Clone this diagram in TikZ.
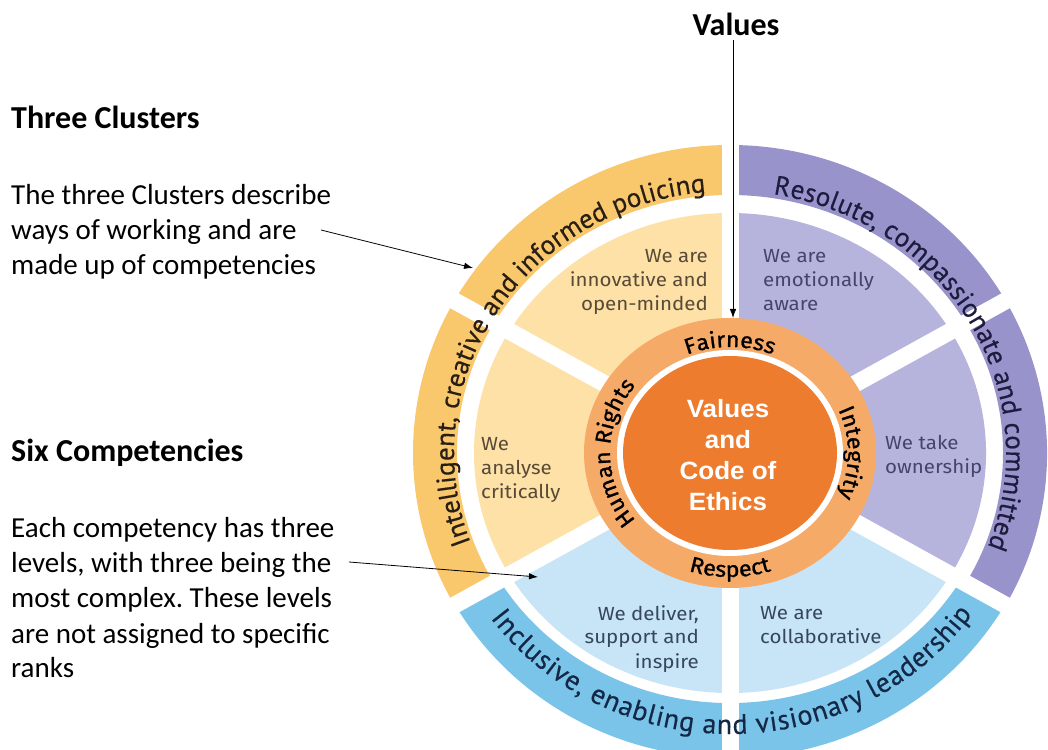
\documentclass[tikz,border=0pt]{standalone}
\usepackage{fontspec}
\setmainfont{Carlito}
\newfontfamily\wheelfont[FakeStretch=1.08]{Fira Sans}
\newfontfamily\ringfont[FakeStretch=1.06,FakeBold=1]{Fira Sans}
\newfontfamily\bandfont[FakeBold=0.4]{PT Sans}
\newfontfamily\corefont[FakeStretch=1.04]{Liberation Sans}
\usetikzlibrary{arrows.meta,decorations.text}
\frenchspacing
\definecolor{ybandc}{RGB}{249,199,108}
\definecolor{ysecc}{RGB}{253,225,167}
\definecolor{pbandc}{RGB}{152,147,203}
\definecolor{psecc}{RGB}{182,179,220}
\definecolor{bbandc}{RGB}{122,196,234}
\definecolor{bsecc}{RGB}{200,229,247}
\definecolor{ringc}{RGB}{246,170,104}
\definecolor{corec}{RGB}{237,124,46}
\definecolor{ytxt}{RGB}{88,74,54}
\definecolor{ptxt}{RGB}{70,68,108}
\definecolor{btxt}{RGB}{54,70,92}
\definecolor{ybtxt}{RGB}{40,30,20}
\definecolor{pbtxt}{RGB}{30,28,62}
\definecolor{bbtxt}{RGB}{20,40,70}
\newcommand{\wheelpart}[7]{%
  \fill[#1] (#2:#4pt and #5pt) arc[start angle=#2, end angle=#3, x radius=#4pt, y radius=#5pt]
    -- (#3:#6pt and #7pt) arc[start angle=#3, end angle=#2, x radius=#6pt, y radius=#7pt] -- cycle;}
\tikzset{
  hd/.style={anchor=base west, inner sep=0pt, font=\bfseries\fontsize{32}{38}\selectfont},
  bd/.style={anchor=base west, inner sep=0pt, font=\fontsize{29}{35}\selectfont},
  sectxt/.style={inner sep=0pt, font=\wheelfont\fontsize{19}{24}\selectfont},
  pointer/.style={draw=black, line width=0.8pt, -{Latex[length=9pt,width=6.5pt]}},
  gapline/.style={draw=white, line width=17pt},
}
\begin{document}
\begin{tikzpicture}[x=1pt,y=1pt]
\useasboundingbox (0,0) rectangle (1048,749);
\fill[white] (0,0) rectangle (1048,749);

\begin{scope}[shift={(730,296)}]
  % outer cluster bands
  \wheelpart{ybandc}{90}{210}{317}{308}{273}{258}
  \wheelpart{pbandc}{-30}{90}{317}{308}{273}{258}
  \wheelpart{bbandc}{210}{330}{317}{305}{268}{250}
  % competency sectors
  \wheelpart{ysecc}{90}{210}{256}{240}{60}{60}
  \wheelpart{psecc}{-30}{90}{256}{240}{60}{60}
  \wheelpart{bsecc}{210}{330}{256}{240}{60}{60}
  % white gaps
  \foreach \a in {30,90,150,210,270,330}
    \draw[gapline] (0,0) -- (\a:345pt and 330pt);
  % values ring and core
  \fill[ringc] (0,0) ellipse[x radius=146pt, y radius=135pt];
  \fill[white] (0,0) ellipse[x radius=113pt, y radius=103pt];
  \fill[corec] (0,0) ellipse[x radius=107pt, y radius=97pt];

  % band texts
  \path[decorate, decoration={text along path, text align=fit to path,
      text={|\bandfont\fontsize{27}{27}\selectfont\color{ybtxt}|Intelligent, creative and informed policing}}]
    (200:276pt and 262pt) arc[start angle=200, end angle=95, x radius=276pt, y radius=262pt];
  \path[decorate, decoration={text along path, text align=fit to path,
      text={|\bandfont\fontsize{27}{27}\selectfont\color{pbtxt}|Resolute, compassionate and committed}}]
    (81:276pt and 262pt) arc[start angle=81, end angle=-21, x radius=276pt, y radius=262pt];
  \path[decorate, decoration={text along path, text align=fit to path,
      text={|\bandfont\fontsize{28}{28}\selectfont\color{bbtxt}|Inclusive, enabling and visionary leadership}}]
    (216:296pt and 281pt) arc[start angle=216, end angle=325, x radius=296pt, y radius=281pt];

  % value labels on ring
  \path[decorate, decoration={text along path, text align=center,
      text={|\ringfont\fontsize{22}{22}\selectfont|Fairness}}]
    (140:115pt and 106pt) arc[start angle=140, end angle=40, x radius=115pt, y radius=106pt];
  \path[decorate, decoration={text along path, text align=center,
      text={|\ringfont\fontsize{22}{22}\selectfont|Integrity}}]
    (50:118pt and 109pt) arc[start angle=50, end angle=-50, x radius=118pt, y radius=109pt];
  \path[decorate, decoration={text along path, text align=center,
      text={|\ringfont\fontsize{22}{22}\selectfont|Respect}}]
    (220:134pt and 124pt) arc[start angle=220, end angle=320, x radius=134pt, y radius=124pt];
  \path[decorate, decoration={text along path, text align=center,
      text={|\ringfont\fontsize{22}{22}\selectfont|Human Rights}}]
    (235:120pt and 109pt) arc[start angle=235, end angle=125, x radius=120pt, y radius=109pt];
\end{scope}

% core text (base anchor = last line)
\node[inner sep=0pt, anchor=base, align=center, text=white,
      font=\corefont\bfseries\fontsize{25}{31}\selectfont] (core) at (728,238)
  {Values\\and\\Code of\\Ethics};

% competency texts (base anchor = last line)
\node[sectxt, anchor=base east, align=right, text=ytxt] (innov) at (708,438) {We are\\innovative and\\open-minded};
\node[sectxt, anchor=base west, align=left, text=ptxt] (emot) at (763,438) {We are\\emotionally\\aware};
\node[sectxt, anchor=base west, align=left, text=ytxt] (analy) at (481,250) {We\\analyse\\critically};
\node[sectxt, anchor=base west, align=left, text=ptxt] (owner) at (885,275) {We take\\ownership};
\node[sectxt, anchor=base east, align=right, text=btxt] (deliv) at (699,81) {We deliver,\\support and\\inspire};
\node[sectxt, anchor=base west, align=left, text=btxt] (collab) at (760,105) {We are\\collaborative};

% left side text
\node[hd] (h1) at (11,620) {Three Clusters};
\node[bd] (c1) at (11,544) {The three Clusters describe};
\node[bd] (c2) at (11,509) {ways of working and are};
\node[bd] (c3) at (11,474) {made up of competencies};
\node[hd] (h2) at (11,287) {Six Competencies};
\node[bd] (s1) at (11,211) {Each competency has three};
\node[bd] (s2) at (11,176) {levels, with three being the};
\node[bd] (s3) at (11,141) {most complex. These levels};
\node[bd] (s4) at (11,106) {are not assigned to specific};
\node[bd] (s5) at (11,72) {ranks};

% Values heading
\node[hd, anchor=base] (vals) at (736,713) {Values};

% pointers
\coordinate (valsend) at (733,431);
\coordinate (clstart) at (321,519);
\coordinate (clend) at (473,481);
\coordinate (cpstart) at (349,187);
\coordinate (cpend) at (538,172);
\draw[pointer] (vals.south -| valsend) ++(0,-4) -- (valsend);
\draw[pointer] (clstart) -- (clend);
\draw[pointer] (cpstart) -- (cpend);
\end{tikzpicture}
\end{document}
